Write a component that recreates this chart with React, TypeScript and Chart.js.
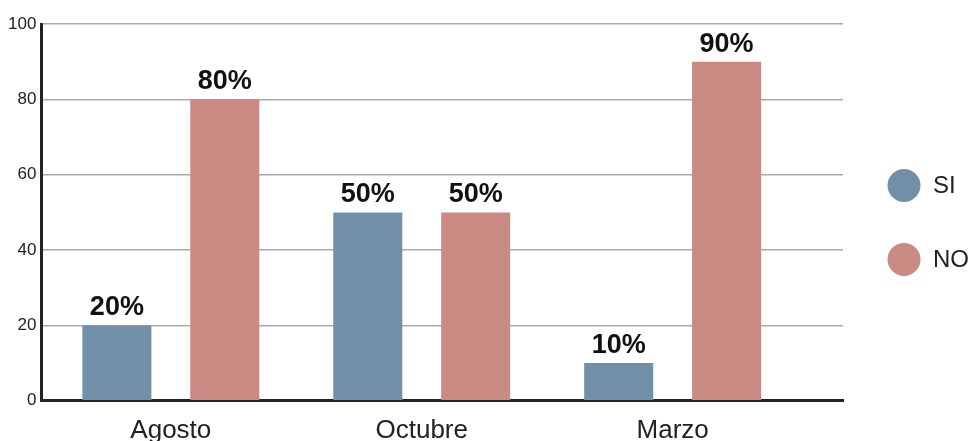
import React, { useEffect, useRef } from "react";
import { Chart, registerables } from "chart.js";

Chart.register(...registerables);

const categories = ["Agosto", "Octubre", "Marzo"];
const siValues = [20, 50, 10];
const noValues = [80, 50, 90];
const seriesNames = ["SI", "NO"];
const yTicks = [0, 20, 40, 60, 80, 100];

const SI_COLOR = "#7190a8";
const NO_COLOR = "#c98a84";
const FONT = "'Liberation Sans', Arial, sans-serif";

const valueLabels = {
  id: "valueLabels",
  afterDatasetsDraw(chart: any) {
    const ctx = chart.ctx;
    ctx.save();
    ctx.font = `bold 27px ${FONT}`;
    ctx.fillStyle = "#111";
    ctx.textAlign = "center";
    ctx.textBaseline = "bottom";
    chart.data.datasets.forEach((ds: any, i: number) => {
      const meta = chart.getDatasetMeta(i);
      meta.data.forEach((bar: any, j: number) => {
        const v = ds.data[j].y;
        ctx.fillText(`${v}%`, bar.x, bar.y - 4);
      });
    });
    ctx.restore();
  },
};

const sideLegend = {
  id: "sideLegend",
  afterDraw(chart: any) {
    const ctx = chart.ctx;
    const { right, top, bottom } = chart.chartArea;
    const mid = (top + bottom) / 2;
    const colors = [SI_COLOR, NO_COLOR];
    ctx.save();
    ctx.font = `24px ${FONT}`;
    ctx.textBaseline = "middle";
    ctx.textAlign = "left";
    seriesNames.forEach((name, i) => {
      const cy = mid - 27 + i * 74;
      const cx = right + 61;
      ctx.beginPath();
      ctx.arc(cx, cy, 16.5, 0, Math.PI * 2);
      ctx.fillStyle = colors[i];
      ctx.fill();
      ctx.fillStyle = "#222";
      ctx.fillText(name, cx + 29, cy + 1);
    });
    ctx.restore();
  },
};

export default function App() {
  const ref = useRef<HTMLCanvasElement>(null);
  useEffect(() => {
    if (!ref.current) return;
    const chart = new Chart(ref.current, {
      type: "bar",
      data: {
        datasets: [
          {
            label: seriesNames[0],
            data: siValues.map((v, i) => ({ x: i, y: v })),
            backgroundColor: SI_COLOR,
            categoryPercentage: 0.86,
            barPercentage: 0.64,
          },
          {
            label: seriesNames[1],
            data: noValues.map((v, i) => ({ x: i, y: v })),
            backgroundColor: NO_COLOR,
            categoryPercentage: 0.86,
            barPercentage: 0.64,
          },
        ] as any,
      },
      options: {
        responsive: false,
        animation: false,
        layout: { padding: { left: 3, right: 130, top: 24, bottom: -19 } },
        plugins: {
          legend: { display: false },
          tooltip: { enabled: false },
        },
        scales: {
          x: {
            type: "linear",
            offset: false,
            min: -0.516,
            max: 2.679,
            grid: { display: false, drawTicks: false },
            border: { display: true, color: "#222", width: 3 },
            afterBuildTicks: (scale: any) => {
              scale.ticks = categories.map((_, i) => ({ value: i }));
            },
            ticks: {
              callback: (v: any) => categories[Math.round(Number(v))] ?? "",
              font: { family: FONT, size: 26 },
              color: "#222",
              padding: 14,
              maxRotation: 0,
              autoSkip: false,
            },
          },
          y: {
            min: 0,
            max: 100,
            afterBuildTicks: (scale: any) => {
              scale.ticks = yTicks.map((v) => ({ value: v }));
            },
            grid: { color: "#aaaaaa", lineWidth: 1.5, drawTicks: false },
            border: { display: true, color: "#222", width: 3 },
            ticks: {
              font: { family: FONT, size: 17 },
              color: "#222",
              padding: 5,
            },
          },
        },
      },
      plugins: [valueLabels, sideLegend],
    });
    return () => chart.destroy();
  }, []);
  return (
    <div style={{ position: "absolute", left: 0, top: 0, width: 973, height: 441 }}>
      <canvas ref={ref} width={973} height={441} style={{ display: "block" }} />
    </div>
  );
}
